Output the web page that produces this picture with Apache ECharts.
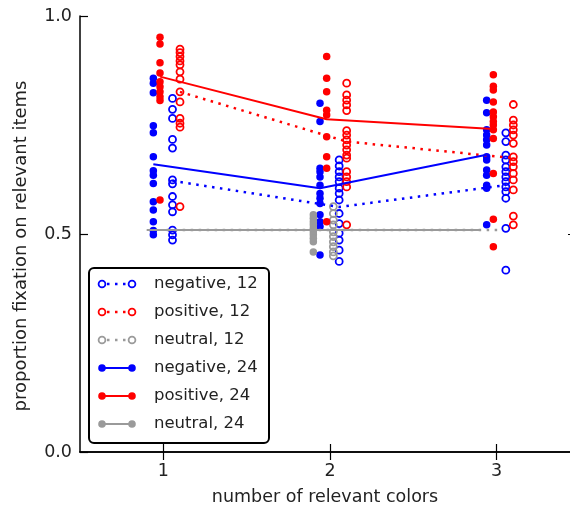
<!DOCTYPE html>
<html>
<head>
<meta charset="utf-8">
<script src="https://cdn.jsdelivr.net/npm/echarts@6/dist/echarts.min.js"></script>
<style>html,body{margin:0;padding:0;background:#fff;}#c{width:570px;height:512px;}</style>
</head>
<body>
<div id="c"></div>
<script>
// ---- data ----
const categories = [1, 2, 3];
const yTickValues = [0, 0.5, 1];
const seriesNames = ['negative, 12', 'positive, 12', 'neutral, 12', 'negative, 24', 'positive, 24', 'neutral, 24'];

const neg12Values = [
  [0.811, 0.786, 0.765, 0.717, 0.697, 0.624, 0.615, 0.586, 0.567, 0.551, 0.509, 0.498, 0.486],
  [0.670, 0.656, 0.643, 0.631, 0.620, 0.605, 0.593, 0.578, 0.547, 0.524, 0.502, 0.486, 0.463, 0.437],
  [0.732, 0.712, 0.681, 0.670, 0.654, 0.643, 0.631, 0.620, 0.608, 0.597, 0.582, 0.513, 0.417]
];
const pos12Values = [
  [0.924, 0.916, 0.907, 0.897, 0.888, 0.872, 0.855, 0.826, 0.803, 0.765, 0.754, 0.745, 0.563],
  [0.846, 0.819, 0.807, 0.796, 0.783, 0.737, 0.727, 0.716, 0.704, 0.693, 0.681, 0.674, 0.643, 0.631, 0.620, 0.608, 0.521],
  [0.797, 0.761, 0.750, 0.739, 0.727, 0.708, 0.677, 0.666, 0.654, 0.639, 0.624, 0.601, 0.541, 0.521]
];
const neu12Values = [
  [],
  [0.563, 0.547, 0.532, 0.521, 0.505, 0.494, 0.482, 0.471, 0.459, 0.450],
  []
];
const neg24Values = [
  [0.857, 0.846, 0.824, 0.748, 0.732, 0.677, 0.645, 0.635, 0.616, 0.574, 0.555, 0.528, 0.508, 0.498],
  [0.800, 0.758, 0.651, 0.643, 0.631, 0.612, 0.593, 0.582, 0.570, 0.544, 0.528, 0.517, 0.452],
  [0.807, 0.778, 0.739, 0.727, 0.716, 0.704, 0.677, 0.670, 0.647, 0.635, 0.612, 0.605, 0.521]
];
const pos24Values = [
  [0.951, 0.936, 0.893, 0.869, 0.849, 0.838, 0.826, 0.815, 0.806, 0.578],
  [0.907, 0.857, 0.826, 0.784, 0.773, 0.723, 0.677, 0.651, 0.528],
  [0.865, 0.839, 0.830, 0.803, 0.780, 0.769, 0.758, 0.750, 0.739, 0.719, 0.639, 0.534, 0.471]
];
const neu24Values = [
  [],
  [0.544, 0.536, 0.528, 0.521, 0.513, 0.505, 0.498, 0.490, 0.482, 0.459],
  []
];

const neg12Means = [0.622, 0.562, 0.612];
const pos12Means = [0.826, 0.712, 0.674];
const neu12Means = [0.509, 0.509, 0.509];
const neg24Means = [0.660, 0.605, 0.682];
const pos24Means = [0.861, 0.763, 0.741];
const neu24Means = [0.509, 0.509, 0.509];

// ---- styling ----
const BLUE = '#0000ff', RED = '#ff0000', GRAY = '#9a9a9a';
const groups = [
  { name: seriesNames[0], color: BLUE, filled: false, offset: 0.055, values: neg12Values, means: neg12Means },
  { name: seriesNames[1], color: RED,  filled: false, offset: 0.100, values: pos12Values, means: pos12Means },
  { name: seriesNames[2], color: GRAY, filled: false, offset: 0.020, values: neu12Values, means: neu12Means },
  { name: seriesNames[3], color: BLUE, filled: true,  offset: -0.060, values: neg24Values, means: neg24Means },
  { name: seriesNames[4], color: RED,  filled: true,  offset: -0.020, values: pos24Values, means: pos24Means },
  { name: seriesNames[5], color: GRAY, filled: true,  offset: -0.100, values: neu24Values, means: neu24Means }
];
const FONT = 'DejaVu Sans';
const TXT = '#222';
const DOT = [2.5, 5.5];
// x range chosen so that 1,2,3 land where the reference puts them (plot runs past the right edge)
const X_MIN = 0.5, X_MAX = 3.44;

const series = [];
groups.forEach((g, gi) => {
  const pts = [];
  g.values.forEach((arr, i) => arr.forEach(v => pts.push([categories[i] + g.offset, v])));
  series.push({
    type: 'scatter', name: g.name, data: pts, symbol: 'circle', symbolSize: g.filled ? 7.5 : 7,
    itemStyle: g.filled ? { color: g.color, opacity: 1 } : { color: 'rgba(0,0,0,0)', borderColor: g.color, borderWidth: 1.8, opacity: 1 },
    z: 2 + gi * 0.01, silent: true, animation: false
  });
});
groups.forEach((g, gi) => {
  series.push({
    type: 'line', name: g.name + ' mean', data: g.means.map((m, i) => [categories[i] + g.offset, m]),
    symbol: 'none', silent: true, animation: false, z: 4,
    lineStyle: { color: g.color, width: g.filled ? 2 : 2.5, type: g.filled ? 'solid' : DOT, cap: 'butt' }
  });
});

// ---- legend (graphic) ----
const lg = { x: 89, y: 268, w: 180, h: 175, rowY0: 284, rowH: 28, iconX0: 102, iconX1: 132, textX: 154 };
const graphics = [{
  type: 'rect', shape: { x: lg.x, y: lg.y, width: lg.w, height: lg.h, r: 5 },
  style: { fill: '#fff', stroke: '#000', lineWidth: 2 }, z: 100
}];
groups.forEach((g, k) => {
  const y = lg.rowY0 + k * lg.rowH;
  graphics.push({
    type: 'line', shape: { x1: lg.iconX0, y1: y, x2: lg.iconX1, y2: y },
    style: { stroke: g.color, lineWidth: g.filled ? 2 : 2.5, lineDash: g.filled ? null : DOT, lineDashOffset: g.filled ? 0 : -5 }, z: 101
  });
  [lg.iconX0, lg.iconX1].forEach(cx => {
    graphics.push({
      type: 'circle', shape: { cx: cx, cy: y, r: g.filled ? 3.8 : 3.4 },
      style: g.filled ? { fill: g.color } : { fill: '#fff', stroke: g.color, lineWidth: 1.8 }, z: 102
    });
  });
  graphics.push({
    type: 'text', x: lg.textX, y: y,
    style: { text: g.name, fill: TXT, font: '16.5px "' + FONT + '"', verticalAlign: 'middle', align: 'left' }, z: 102
  });
});

const axisLineStyle = { color: '#000', width: 1.5 };
const option = {
  animation: false,
  backgroundColor: '#fff',
  textStyle: { fontFamily: FONT },
  grid: { left: 80, top: 16, right: 0, height: 436, containLabel: false },
  xAxis: [{
    type: 'value', min: X_MIN, max: X_MAX, position: 'bottom',
    name: 'number of relevant colors', nameLocation: 'middle', nameGap: 36,
    nameTextStyle: { fontFamily: FONT, fontSize: 17.5, color: TXT },
    axisLine: { show: true, lineStyle: axisLineStyle },
    axisTick: { show: true, inside: true, length: 8, customValues: categories, lineStyle: { color: '#000', width: 1.2 } },
    axisLabel: { show: true, customValues: categories, margin: 10, fontFamily: FONT, fontSize: 17.5, color: TXT },
    splitLine: { show: false }
  }, {
    type: 'value', min: X_MIN, max: X_MAX, position: 'top',
    axisLine: { show: true, lineStyle: axisLineStyle },
    axisTick: { show: true, inside: true, length: 8, customValues: categories, lineStyle: { color: '#000', width: 1.2 } },
    axisLabel: { show: false }, splitLine: { show: false }
  }],
  yAxis: [{
    type: 'value', min: 0, max: 1, position: 'left',
    name: 'proportion fixation on relevant items', nameLocation: 'middle', nameGap: 50,
    nameTextStyle: { fontFamily: FONT, fontSize: 18, color: TXT, padding: [0, 24, 0, 0] },
    axisLine: { show: true, lineStyle: axisLineStyle },
    axisTick: { show: true, inside: true, length: 8, customValues: yTickValues, lineStyle: { color: '#000', width: 1.2 } },
    axisLabel: { show: true, customValues: yTickValues, margin: 8, fontFamily: FONT, fontSize: 17.5, color: TXT, formatter: v => v.toFixed(1) },
    splitLine: { show: false }
  }, {
    type: 'value', min: 0, max: 1, position: 'right',
    axisLine: { show: false },
    axisTick: { show: true, inside: true, length: 2, customValues: [0.5], lineStyle: { color: '#000', width: 1.2 } },
    axisLabel: { show: false }, splitLine: { show: false }
  }],
  series: series,
  graphic: graphics
};
const chart = echarts.init(document.getElementById('c'), null, { renderer: 'canvas' });
chart.setOption(option);
</script>
</body>
</html>
